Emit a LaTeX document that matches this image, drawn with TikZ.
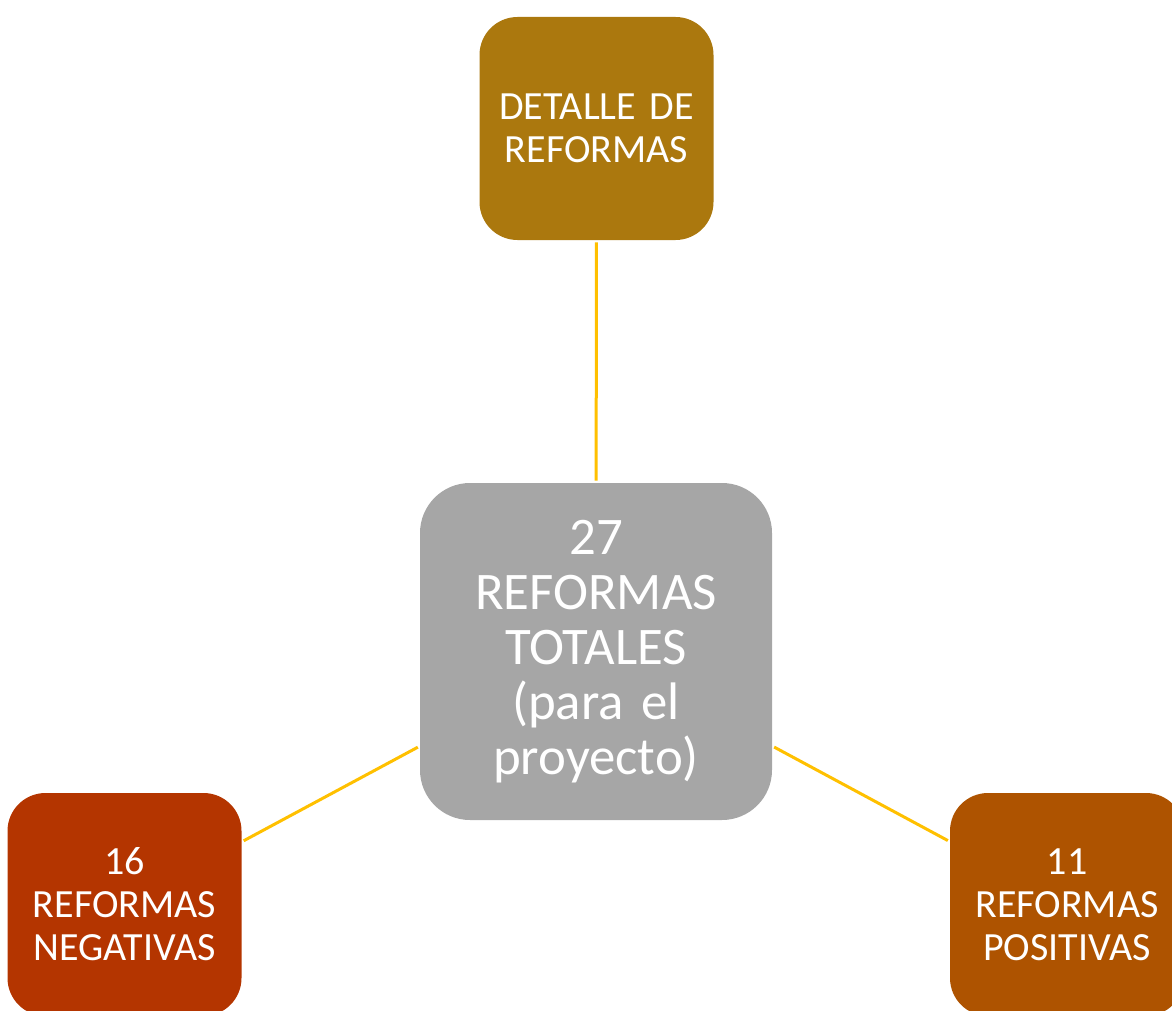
\documentclass[tikz,border=0pt]{standalone}
\usepackage{fontspec}
\setmainfont{Carlito}
\usepackage{tikz}
\usetikzlibrary{positioning}
\definecolor{reformgold}{RGB}{171,120,14}
\definecolor{reformgrey}{RGB}{166,166,166}
\definecolor{reformrust}{RGB}{180,53,0}
\definecolor{reformamber}{RGB}{174,83,0}
\definecolor{reformline}{RGB}{255,192,0}

\begin{document}
\begin{tikzpicture}[
	x=0.5pt, y=-0.5pt,
	texts/.style = {text=white, align=center},
	reformbox/.style = {texts, rectangle, rounded corners=19pt, inner sep=0pt,
		minimum width=117pt, minimum height=111.5pt, text width=112pt,
		font=\fontsize{20}{21.5}\selectfont},
	totalbox/.style = {reformbox, rounded corners=25pt, fill=reformgrey,
		minimum width=176pt, minimum height=168.5pt, text width=170pt,
		font=\fontsize{26.4}{27.5}\selectfont},
	linkline/.style = {draw=reformline, line width=1.5pt, shorten <=1pt, shorten >=1pt}
]
	\useasboundingbox (0,0) rectangle (1172,1011);
	\clip (0,0) rectangle (1172,1011);
	\node[totalbox] (total) at (596,651.5) {27\\REFORMAS\\TOTALES\\(para el\\proyecto)};
	\node[reformbox, fill=reformgold] (detail) at (596.5,128.5) {DETALLE DE\\REFORMAS};
	\node[reformbox, fill=reformrust] (neg) at (124.5,904.5) {16\\REFORMAS\\NEGATIVAS};
	\node[reformbox, fill=reformamber] (pos) at (1067,904.5) {11\\REFORMAS\\POSITIVAS};

	\draw[linkline] (detail) -- (total);
	\draw[linkline] (total) -- (neg);
	\draw[linkline] (total) -- (pos);
\end{tikzpicture}
\end{document}
